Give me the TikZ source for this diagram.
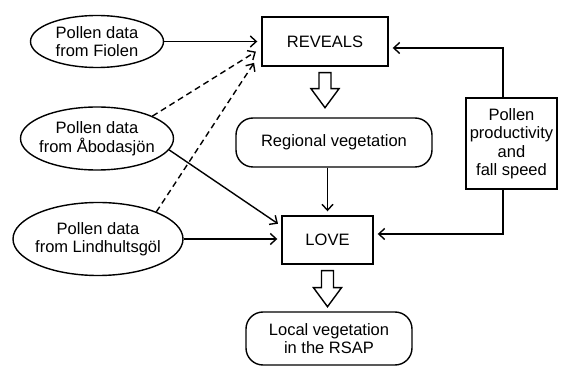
\documentclass[tikz,border=0pt]{standalone}
\usepackage{fontspec}
\setmainfont{Liberation Sans}
\usetikzlibrary{shapes.geometric,arrows.meta}

\tikzset{
  pollen/.style={draw, ellipse, line width=1.4pt, inner sep=0pt},
  model/.style={draw, rectangle, line width=1.4pt},
  veg/.style={draw, rectangle, rounded corners=17pt, line width=1.4pt, align=center},
  flow/.style={-{Straight Barb[length=6pt,width=11pt]}, line width=1.4pt, shorten >=4pt},
  hollow/.style={draw, line width=1.4pt, line join=miter}
}

\begin{document}
\begin{tikzpicture}[x=1pt,y=1pt,font=\fontsize{16.5}{18.5}\selectfont]
    \useasboundingbox (0,0) rectangle (563,367);
    % models and vegetation
    \node[model, minimum width=126pt, minimum height=49pt] (reveals) at (325,325.5) {REVEALS};
    \node[model, minimum width=91pt, minimum height=48pt] (love) at (327.5,127) {LOVE};
    \node[veg, minimum width=196pt, minimum height=49pt] (regional) at (334,224.5) {Regional vegetation};
    \node[veg, minimum width=166pt, minimum height=53pt] (local) at (329,28.5) {Local vegetation\\in the RSAP};
    \node[model, align=center, minimum width=91pt, minimum height=91pt, inner sep=2pt] (prod) at (511.5,223.5) {Pollen\\productivity\\and\\fall speed};
    % pollen sites
    \node[pollen, minimum width=133pt, minimum height=52pt, label={[align=center]center:Pollen data\\from Fiolen}] (fiolen) at (97,325.5) {};
    \node[pollen, minimum width=153pt, minimum height=63pt, label={[align=center]center:Pollen data\\from Åbodasjön}] (abod) at (97,228.5) {};
    \node[pollen, minimum width=170pt, minimum height=73pt, label={[align=center]center:Pollen data\\from Lindhultsgöl}] (lind) at (98,128) {};
    % connectors
    \draw[flow] (fiolen.east) -- (reveals.west);
    \draw[flow, dash pattern=on 6pt off 4pt] (abod.22) -- ([xshift=-2pt,yshift=-8pt]reveals.west);
    \draw[flow, dash pattern=on 6pt off 4pt] (lind.25) -- ([xshift=-5pt,yshift=-18pt]reveals.west);
    \draw[flow] (abod.-9) -- ([yshift=14pt]love.west);
    \draw[flow] (lind.east) -- (lind.east -| love.west);
    \draw[flow] (love.north |- regional.south) -- (love.north);
    \draw[flow] ([xshift=-8.5pt]prod.north) |- ([yshift=-6.5pt]reveals.east);
    \draw[flow] ([xshift=-8.5pt]prod.south) |- ([yshift=6pt]love.east);
    % hollow block arrows
    \draw[hollow] ([xshift=-6pt,yshift=-6pt]reveals.south) -- ++(0,-16) -- ++(-8,0) -- ++(14,-19) -- ++(14,19) -- ++(-8,0) -- ++(0,16) -- cycle;
    \draw[hollow] ([xshift=-6pt,yshift=-6pt]love.south) -- ++(0,-17) -- ++(-8,0) -- ++(14,-19) -- ++(14,19) -- ++(-8,0) -- ++(0,17) -- cycle;
\end{tikzpicture}
\end{document}
